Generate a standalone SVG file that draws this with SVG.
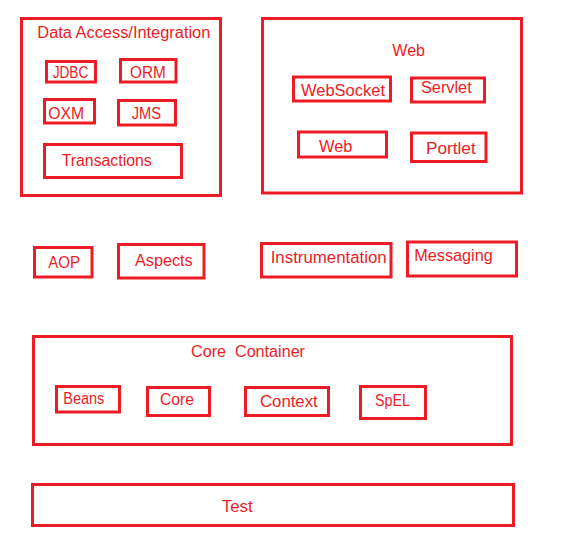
<svg xmlns="http://www.w3.org/2000/svg" width="563" height="546" viewBox="0 0 563 546">
<style>
rect.b{fill:none;stroke:#ED1C24;stroke-width:3}
text{font-family:"Liberation Sans",Arial,sans-serif;font-size:16px;fill:#ED1C24;white-space:pre}
</style>
<rect width="563" height="546" fill="#FFFFFF"/>
<g id="data-access">
<rect class="b" x="21.5" y="18.5" width="199" height="177"/>
<text x="37.3" y="38.3" textLength="173" lengthAdjust="spacingAndGlyphs">Data Access/Integration</text>
</g>
<g id="jdbc"><rect class="b" x="46.5" y="61.5" width="49" height="20.5"/><text x="52.7" y="77.7" textLength="35.6" lengthAdjust="spacingAndGlyphs">JDBC</text></g>
<g id="orm"><rect class="b" x="120.5" y="59.5" width="55.5" height="22.5"/><text x="130" y="77.7" textLength="35.7" lengthAdjust="spacingAndGlyphs">ORM</text></g>
<g id="oxm"><rect class="b" x="44.5" y="99.5" width="50" height="23.5"/><text x="48.3" y="119" textLength="35.7" lengthAdjust="spacingAndGlyphs">OXM</text></g>
<g id="jms"><rect class="b" x="118.5" y="100.5" width="57" height="24.5"/><text x="131.7" y="119" textLength="29.3" lengthAdjust="spacingAndGlyphs">JMS</text></g>
<g id="transactions"><rect class="b" x="44.5" y="144.5" width="137" height="33"/><text x="61.7" y="165.7" textLength="90" lengthAdjust="spacingAndGlyphs">Transactions</text></g>
<g id="web-group">
<rect class="b" x="262.5" y="18.5" width="259" height="174.5"/>
<text x="392.3" y="55.7" textLength="32.7" lengthAdjust="spacingAndGlyphs">Web</text>
</g>
<g id="websocket"><rect class="b" x="293.5" y="77" width="97" height="24"/><text x="301" y="95.7" textLength="84" lengthAdjust="spacingAndGlyphs">WebSocket</text></g>
<g id="servlet"><rect class="b" x="411.5" y="78" width="73" height="24"/><text x="421" y="92.7" textLength="50.7" lengthAdjust="spacingAndGlyphs">Servlet</text></g>
<g id="web"><rect class="b" x="298.5" y="132" width="88" height="25"/><text x="319" y="151.7" textLength="33.3" lengthAdjust="spacingAndGlyphs">Web</text></g>
<g id="portlet"><rect class="b" x="411.5" y="133" width="74.5" height="28.5"/><text x="426" y="154" textLength="49.7" lengthAdjust="spacingAndGlyphs">Portlet</text></g>
<g id="aop"><rect class="b" x="34.5" y="247.5" width="57.5" height="29.5"/><text x="48.3" y="268.3" textLength="31.7" lengthAdjust="spacingAndGlyphs">AOP</text></g>
<g id="aspects"><rect class="b" x="118.5" y="244.5" width="85.5" height="33.5"/><text x="135" y="266" textLength="57.7" lengthAdjust="spacingAndGlyphs">Aspects</text></g>
<g id="instrumentation"><rect class="b" x="261.5" y="243.5" width="129.5" height="33.5"/><text x="270.7" y="263.3" textLength="116" lengthAdjust="spacingAndGlyphs">Instrumentation</text></g>
<g id="messaging"><rect class="b" x="407.5" y="242" width="109" height="34"/><text x="414.3" y="260.7" textLength="78.4" lengthAdjust="spacingAndGlyphs">Messaging</text></g>
<g id="core-container">
<rect class="b" x="33.5" y="336.5" width="478" height="108"/>
<text x="191" y="356.7" xml:space="preserve" textLength="114" lengthAdjust="spacingAndGlyphs">Core  Container</text>
</g>
<g id="beans"><rect class="b" x="56.5" y="386.5" width="63" height="25.5"/><text x="63.3" y="404" textLength="41" lengthAdjust="spacingAndGlyphs">Beans</text></g>
<g id="core"><rect class="b" x="147.5" y="387.5" width="62" height="28"/><text x="160" y="405" textLength="34" lengthAdjust="spacingAndGlyphs">Core</text></g>
<g id="context"><rect class="b" x="245.5" y="387.5" width="83" height="28"/><text x="260" y="406.7" textLength="57.7" lengthAdjust="spacingAndGlyphs">Context</text></g>
<g id="spel"><rect class="b" x="360.5" y="386.5" width="65" height="32"/><text x="375" y="406" textLength="35" lengthAdjust="spacingAndGlyphs">SpEL</text></g>
<g id="test"><rect class="b" x="32.5" y="484.5" width="481" height="41"/><text x="221.7" y="511.7" textLength="31" lengthAdjust="spacingAndGlyphs">Test</text></g>
<g id="connectors"></g>
</svg>
